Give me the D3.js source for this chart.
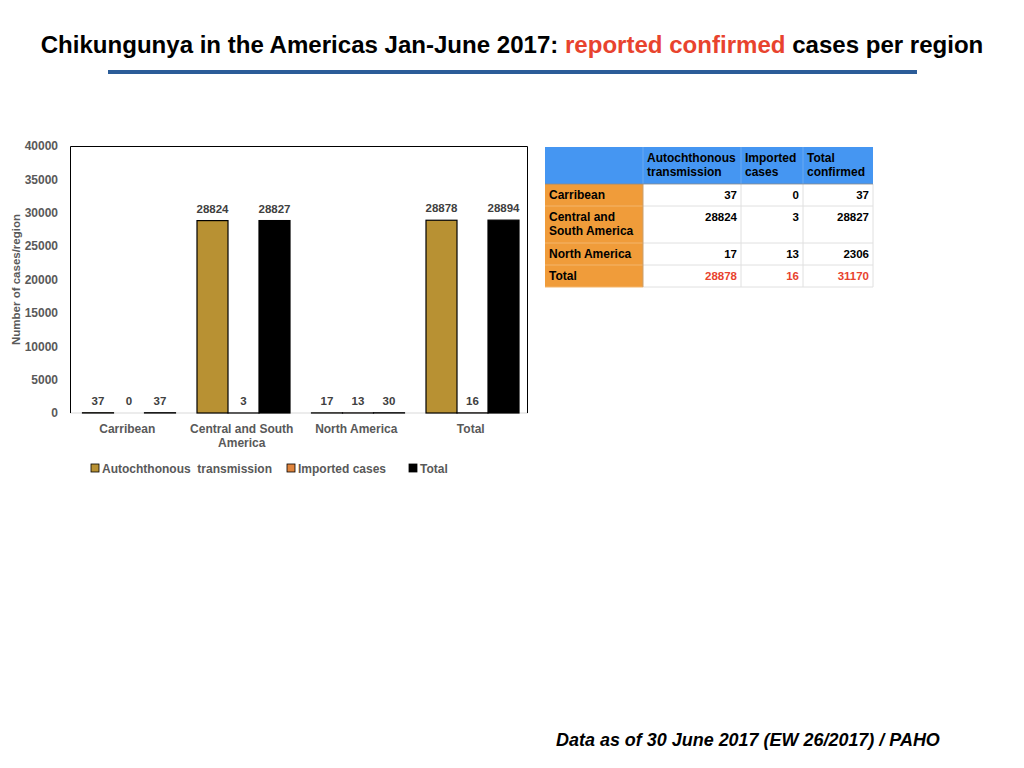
<!DOCTYPE html>
<html><head><meta charset="utf-8">
<script src="https://cdn.jsdelivr.net/npm/d3@7"></script>
<style>body{margin:0;background:#fff}svg{display:block}</style>
</head><body>
<script>
const categories = ["Carribean", "Central and South America", "North America", "Total"];
const categoryLines = [["Carribean"], ["Central and South", "America"], ["North America"], ["Total"]];
const seriesNames = ["Autochthonous  transmission", "Imported cases", "Total"];
const autochthonous = [37, 28824, 17, 28878];
const imported = [0, 3, 13, 16];
const totals = [37, 28827, 30, 28894];
const yTicks = [0, 5000, 10000, 15000, 20000, 25000, 30000, 35000, 40000];
const seriesColors = ["#B89133", "#E0843C", "#000000"];

const tableHeader = [["Autochthonous", "transmission"], ["Imported", "cases"], ["Total", "confirmed"]];
const tableRows = [["Carribean"], ["Central and", "South America"], ["North America"], ["Total"]];
const tableAuto = [37, 28824, 17, 28878];
const tableImported = [0, 3, 13, 16];
const tableTotal = [37, 28827, 2306, 31170];

(function(){
const W = 1024, H = 768;
const svg = d3.select("body").append("svg").attr("width", W).attr("height", H);
const font = "'Liberation Sans', Arial, Helvetica, sans-serif";

// Title
const title = svg.append("text").attr("x", W/2).attr("y", 53).attr("text-anchor", "middle")
  .attr("font-family", font).attr("font-weight", "bold").attr("font-size", 22);
title.append("tspan").attr("fill", "#000").text("Chikungunya in the Americas Jan-June 2017: ");
title.append("tspan").attr("fill", "#E8432E").text("reported confirmed");
title.append("tspan").attr("fill", "#000").text(" cases per region");
{
  const w = title.node().getComputedTextLength();
  title.attr("font-size", 22 * 943 / w);
}
svg.append("rect").attr("x", 108).attr("y", 70).attr("width", 809).attr("height", 4).attr("fill", "#2B5C98");

// Chart
const pl = 70, pr = 528, pt = 146, pb = 413;
const y = d3.scaleLinear().domain([0, 40000]).range([pb, pt]);
const x = d3.scaleBand().domain(categories).range([pl, pr]).padding(0);
const xs = d3.scaleBand().domain(seriesNames).range([12.5, 105.5]).padding(0);

const data = categories.map((c, i) => ({c, vals: [autochthonous[i], imported[i], totals[i]]}));

const g = svg.append("g");
g.append("line").attr("x1", pl).attr("x2", pr).attr("y1", pb).attr("y2", pb).attr("stroke", "#D9D9D9").attr("stroke-width", 1);
g.append("path").attr("d", `M${pl+0.5},${pb}V${pt+0.5}H${pr-0.5}V${pb}`).attr("fill", "none").attr("stroke", "#000").attr("stroke-width", 1);

const yAxis = d3.axisLeft(y).tickValues(yTicks).tickSize(0).tickPadding(12).tickFormat(d3.format("d"));
const ya = g.append("g").attr("transform", `translate(${pl},0)`).call(yAxis);
ya.select(".domain").remove();
ya.selectAll("text").attr("font-family", font).attr("font-weight", "bold").attr("font-size", 12).attr("fill", "#595959");

svg.append("text").attr("transform", `translate(20,${(pt+pb)/2}) rotate(-90)`).attr("text-anchor", "middle")
  .attr("font-family", font).attr("font-weight", "bold").attr("font-size", 11.5).attr("fill", "#595959")
  .text("Number of cases/region");

const groups = g.selectAll(".grp").data(data).join("g").attr("class", "grp").attr("transform", d => `translate(${x(d.c)},0)`);
groups.selectAll("rect").data(d => d.vals.map((v, k) => ({v, k}))).join("rect")
  .attr("x", d => xs(seriesNames[d.k]))
  .attr("width", xs.bandwidth())
  .attr("y", d => y(d.v))
  .attr("height", d => pb - y(d.v))
  .attr("fill", d => seriesColors[d.k])
  .attr("stroke", d => d.k === 1 && d.v === 0 ? "none" : "#000")
  .attr("stroke-width", 1.2);
groups.selectAll("text.lbl").data(d => d.vals.map((v, k) => ({v, k}))).join("text").attr("class", "lbl")
  .attr("x", d => xs(seriesNames[d.k]) + xs.bandwidth()/2)
  .attr("y", d => y(d.v) - 8)
  .attr("text-anchor", "middle")
  .attr("font-family", font).attr("font-weight", "bold").attr("font-size", 11.5).attr("fill", "#404040")
  .text(d => d.v);

categories.forEach((c, i) => {
  const t = svg.append("text").attr("x", x(c) + x.bandwidth()/2).attr("y", 433).attr("text-anchor", "middle")
    .attr("font-family", font).attr("font-weight", "bold").attr("font-size", 12).attr("fill", "#595959");
  categoryLines[i].forEach((ln, j) => t.append("tspan").attr("x", x(c) + x.bandwidth()/2).attr("dy", j ? 14 : 0).text(ln));
});

const legendX = [91, 287, 409];
seriesNames.forEach((s, k) => {
  svg.append("rect").attr("x", legendX[k]).attr("y", 464).attr("width", 8).attr("height", 8)
    .attr("fill", seriesColors[k]).attr("stroke", "#000").attr("stroke-width", 0.8);
  svg.append("text").attr("x", legendX[k] + 11).attr("y", 472.5).attr("xml:space", "preserve")
    .attr("font-family", font).attr("font-weight", "bold").attr("font-size", 12).attr("fill", "#595959").text(s);
});

const colX = [545, 643, 741, 803, 873];
const rowY = [147, 184, 206, 243, 265, 287];
const tg = svg.append("g");
tg.append("rect").attr("x", colX[0]).attr("y", rowY[0]).attr("width", colX[4]-colX[0]).attr("height", rowY[1]-rowY[0]).attr("fill", "#4596F2");
for (let c = 1; c < 4; c++) tg.append("line").attr("x1", colX[c]).attr("x2", colX[c]).attr("y1", rowY[0]).attr("y2", rowY[1]).attr("stroke", "#6AAAF2").attr("stroke-width", 1);
tableHeader.forEach((h, c) => {
  const t = tg.append("text").attr("font-family", font).attr("font-weight", "bold").attr("font-size", 12).attr("fill", "#000");
  h.forEach((ln, j) => t.append("tspan").attr("x", colX[c+1] + 4).attr("y", rowY[0] + 15 + j*14).text(ln));
});
tableRows.forEach((r, i) => {
  const y0 = rowY[i+1], y1 = rowY[i+2];
  tg.append("rect").attr("x", colX[0]).attr("y", y0).attr("width", colX[1]-colX[0]).attr("height", y1-y0).attr("fill", "#F09C3A");
  tg.append("rect").attr("x", colX[1]).attr("y", y0).attr("width", colX[4]-colX[1]).attr("height", y1-y0).attr("fill", "#fff");
  const t = tg.append("text").attr("font-family", font).attr("font-weight", "bold").attr("font-size", 12).attr("fill", "#000");
  r.forEach((ln, j) => t.append("tspan").attr("x", colX[0] + 4).attr("y", y0 + 15 + j*14).text(ln));
  const vals = [tableAuto[i], tableImported[i], tableTotal[i]];
  vals.forEach((v, c) => {
    tg.append("text").attr("x", colX[c+2] - 4).attr("y", y0 + 15).attr("text-anchor", "end")
      .attr("font-family", font).attr("font-weight", "bold").attr("font-size", 11.5)
      .attr("fill", i === 3 ? "#E8432E" : "#000").text(v);
  });
});
for (let i = 2; i < rowY.length; i++) {
  tg.append("line").attr("x1", colX[0]).attr("x2", colX[1]).attr("y1", rowY[i]).attr("y2", rowY[i]).attr("stroke", "#F4B56A");
  tg.append("line").attr("x1", colX[1]).attr("x2", colX[4]).attr("y1", rowY[i]).attr("y2", rowY[i]).attr("stroke", "#E0E0E0");
}
for (let c = 2; c < 5; c++) tg.append("line").attr("x1", colX[c]).attr("x2", colX[c]).attr("y1", rowY[1]).attr("y2", rowY[5]).attr("stroke", "#E0E0E0");
tg.append("line").attr("x1", colX[1]).attr("x2", colX[1]).attr("y1", rowY[1]).attr("y2", rowY[5]).attr("stroke", "#C9A070");
tg.append("line").attr("x1", colX[0]).attr("x2", colX[4]).attr("y1", rowY[1]).attr("y2", rowY[1]).attr("stroke", "#8A8A8A").attr("stroke-width", 0.8);

const foot = svg.append("text").attr("x", 556).attr("y", 746).attr("font-family", font)
  .attr("font-weight", "bold").attr("font-style", "italic").attr("font-size", 17).attr("fill", "#000")
  .text("Data as of 30 June 2017 (EW 26/2017) / PAHO");
{
  const w = foot.node().getComputedTextLength();
  foot.attr("font-size", 17 * 384 / w);
}
})();
</script>
</body></html>
